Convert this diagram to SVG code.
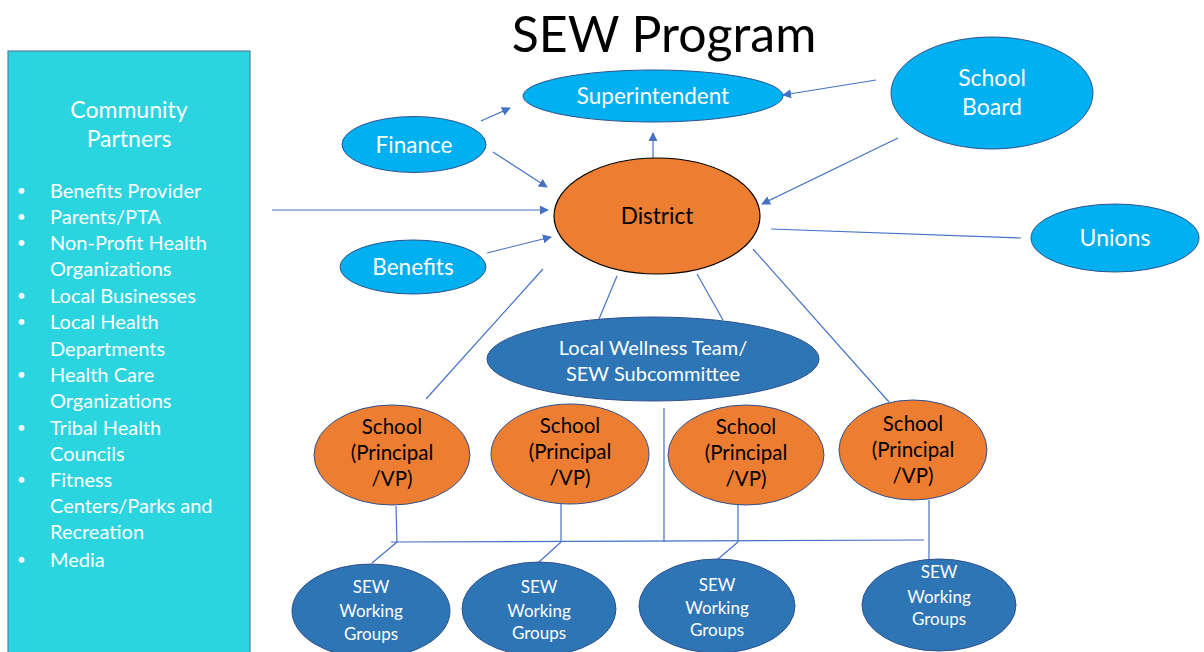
<svg xmlns="http://www.w3.org/2000/svg" width="1204" height="652" viewBox="0 0 1204 652">
<style>
text{font-family:Lato,"Liberation Sans",sans-serif}
.cn line{stroke:#4472C4;stroke-width:1.2;fill:none}
.lb{fill:#00B0F0;stroke:#2F528F;stroke-width:1}
.db{fill:#2E75B6;stroke:#2F528F;stroke-width:1}
.or{fill:#ED7D31;stroke:#2F528F;stroke-width:1}
.wt{fill:#fff;text-anchor:middle}
.bt{fill:#000;text-anchor:middle}
.li{fill:#fff;font-size:20px}
.bu{fill:#fff;font-size:15px}
</style>
<defs>
<marker id="ar" viewBox="0 0 10 10" refX="9" refY="5" markerWidth="9" markerHeight="9" markerUnits="userSpaceOnUse" orient="auto">
<path d="M0,0 L10,5 L0,10 z" fill="#4472C4"/>
</marker>
</defs>
<rect width="1204" height="652" fill="#fff"/>
<text x="664" y="52" font-size="50" text-anchor="middle" fill="#000">SEW Program</text>

<g id="community">
<rect x="8" y="51" width="242" height="620" fill="#2AD5E0" stroke="#5B7FA6" stroke-width="1.2"/>
<text class="wt" x="129" y="118" font-size="23">Community</text>
<text class="wt" x="129" y="147" font-size="23">Partners</text>
<g class="li">
<text x="50" y="198">Benefits Provider</text>
<text x="50" y="224">Parents/PTA</text>
<text x="50" y="250">Non-Profit Health</text>
<text x="50" y="276">Organizations</text>
<text x="50" y="303">Local Businesses</text>
<text x="50" y="329">Local Health</text>
<text x="50" y="356">Departments</text>
<text x="50" y="382">Health Care</text>
<text x="50" y="408">Organizations</text>
<text x="50" y="435">Tribal Health</text>
<text x="50" y="461">Councils</text>
<text x="50" y="487">Fitness</text>
<text x="50" y="513">Centers/Parks and</text>
<text x="50" y="539">Recreation</text>
<text x="50" y="567">Media</text>
</g>
<g class="bu">
<text x="17" y="196">•</text>
<text x="17" y="222">•</text>
<text x="17" y="248">•</text>
<text x="17" y="301">•</text>
<text x="17" y="327">•</text>
<text x="17" y="380">•</text>
<text x="17" y="433">•</text>
<text x="17" y="485">•</text>
<text x="17" y="565">•</text>
</g>
</g>

<g class="cn" id="connectors">
<line x1="481" y1="121" x2="510" y2="108" marker-end="url(#ar)"/>
<line x1="493" y1="152" x2="547" y2="187" marker-end="url(#ar)"/>
<line x1="653" y1="158" x2="653" y2="133" marker-end="url(#ar)"/>
<line x1="272" y1="210" x2="548" y2="210" marker-end="url(#ar)"/>
<line x1="487" y1="253" x2="551" y2="237" marker-end="url(#ar)"/>
<line x1="876" y1="80" x2="783" y2="95" marker-end="url(#ar)"/>
<line x1="898" y1="138" x2="762" y2="204" marker-end="url(#ar)"/>
<line x1="771" y1="229" x2="1021" y2="238"/>
<line x1="543" y1="269" x2="426" y2="399"/>
<line x1="617" y1="276" x2="599" y2="319"/>
<line x1="697" y1="274" x2="723" y2="320"/>
<line x1="753" y1="249" x2="889" y2="402"/>
<line x1="396" y1="506" x2="397" y2="543"/>
<line x1="561" y1="504" x2="561" y2="542"/>
<line x1="664" y1="408" x2="664" y2="542"/>
<line x1="738" y1="505" x2="738" y2="542"/>
<line x1="929" y1="500" x2="929" y2="559"/>
<line x1="391" y1="542" x2="924" y2="540"/>
<line x1="372" y1="563" x2="397" y2="542"/>
<line x1="539" y1="562" x2="561" y2="542"/>
<line x1="718" y1="559" x2="738" y2="542"/>
</g>

<g id="superintendent"><ellipse class="lb" cx="653" cy="96" rx="130" ry="26"/><text class="wt" x="653" y="104" font-size="22.5">Superintendent</text></g>
<g id="finance"><ellipse class="lb" cx="414" cy="144.5" rx="72" ry="28"/><text class="wt" x="414" y="152.5" font-size="22.5">Finance</text></g>
<g id="benefits"><ellipse class="lb" cx="413" cy="267" rx="73" ry="27"/><text class="wt" x="413" y="275" font-size="22.5">Benefits</text></g>
<g id="school-board"><ellipse class="lb" cx="992" cy="93" rx="101" ry="56"/><text class="wt" x="992" y="86" font-size="23">School</text><text class="wt" x="992" y="115" font-size="23">Board</text></g>
<g id="unions"><ellipse class="lb" cx="1115" cy="238" rx="84" ry="34"/><text class="wt" x="1115" y="246" font-size="23">Unions</text></g>
<g id="district"><ellipse cx="657" cy="216" rx="103" ry="58" fill="#ED7D31" stroke="#000" stroke-width="1.2"/><text class="bt" x="657" y="224" font-size="22.5">District</text></g>
<g id="wellness"><ellipse class="db" cx="653" cy="359" rx="166" ry="42"/><text class="wt" x="653" y="355" font-size="20">Local Wellness Team/</text><text class="wt" x="653" y="381" font-size="20">SEW Subcommittee</text></g>

<g id="school1"><ellipse class="or" cx="392" cy="455" rx="78" ry="50"/><text class="bt" x="392" y="434" font-size="20.5">School</text><text class="bt" x="392" y="460" font-size="20.5">(Principal</text><text class="bt" x="392" y="486" font-size="20.5">/VP)</text></g>
<g id="school2"><ellipse class="or" cx="570" cy="454" rx="79" ry="50"/><text class="bt" x="570" y="433" font-size="20.5">School</text><text class="bt" x="570" y="459" font-size="20.5">(Principal</text><text class="bt" x="570" y="485" font-size="20.5">/VP)</text></g>
<g id="school3"><ellipse class="or" cx="746" cy="455" rx="78" ry="50"/><text class="bt" x="746" y="434" font-size="20.5">School</text><text class="bt" x="746" y="460" font-size="20.5">(Principal</text><text class="bt" x="746" y="486" font-size="20.5">/VP)</text></g>
<g id="school4"><ellipse class="or" cx="913" cy="450" rx="74" ry="50"/><text class="bt" x="913" y="431" font-size="20.5">School</text><text class="bt" x="913" y="457" font-size="20.5">(Principal</text><text class="bt" x="913" y="483" font-size="20.5">/VP)</text></g>

<g id="wg1"><ellipse class="db" cx="371" cy="611" rx="79" ry="47"/><text class="wt" x="371" y="593" font-size="17">SEW</text><text class="wt" x="371" y="617" font-size="17">Working</text><text class="wt" x="371" y="640" font-size="17">Groups</text></g>
<g id="wg2"><ellipse class="db" cx="539" cy="609" rx="77" ry="47"/><text class="wt" x="539" y="593" font-size="17">SEW</text><text class="wt" x="539" y="617" font-size="17">Working</text><text class="wt" x="539" y="639" font-size="17">Groups</text></g>
<g id="wg3"><ellipse class="db" cx="717" cy="606" rx="78" ry="47"/><text class="wt" x="717" y="591" font-size="17">SEW</text><text class="wt" x="717" y="614" font-size="17">Working</text><text class="wt" x="717" y="636" font-size="17">Groups</text></g>
<g id="wg4"><ellipse class="db" cx="939" cy="605" rx="77" ry="46"/><text class="wt" x="939" y="578" font-size="17">SEW</text><text class="wt" x="939" y="603" font-size="17">Working</text><text class="wt" x="939" y="625" font-size="17">Groups</text></g>
</svg>
